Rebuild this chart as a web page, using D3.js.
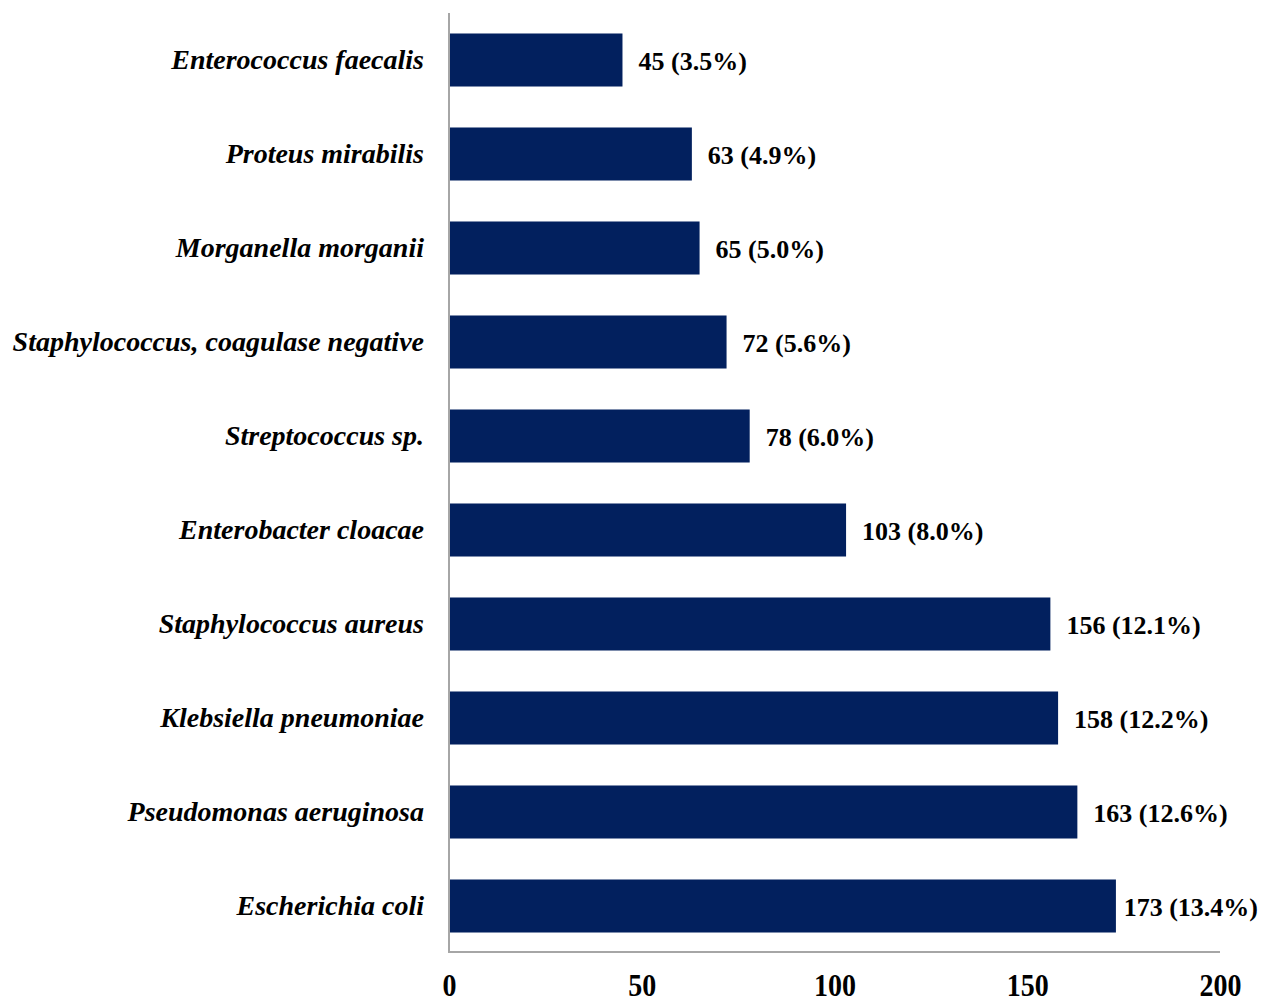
<!DOCTYPE html>
<html>
<head>
<meta charset="utf-8">
<script src="https://cdn.jsdelivr.net/npm/d3@7/dist/d3.min.js"></script>
<style>
  html, body { margin: 0; padding: 0; background: #ffffff; }
  svg { display: block; }
</style>
</head>
<body>
<script>
// Isolated organisms: counts and share of all isolates
const organisms = [
  "Enterococcus faecalis",
  "Proteus mirabilis",
  "Morganella morganii",
  "Staphylococcus, coagulase negative",
  "Streptococcus sp.",
  "Enterobacter cloacae",
  "Staphylococcus aureus ",
  "Klebsiella pneumoniae",
  "Pseudomonas aeruginosa",
  "Escherichia coli"
];
const counts = [45, 63, 65, 72, 78, 103, 156, 158, 163, 173];
const percents = ["3.5", "4.9", "5.0", "5.6", "6.0", "8.0", "12.1", "12.2", "12.6", "13.4"];
const xTicks = [0, 50, 100, 150, 200];

const W = 1262, H = 999;
const plotLeft = 449, plotRight = 1220, plotTop = 13, plotBottom = 953;

const svg = d3.select("body").append("svg")
  .attr("width", W)
  .attr("height", H);

const x = d3.scaleLinear().domain([0, 200]).range([plotLeft, plotRight]);
const y = d3.scaleBand().domain(organisms).range([plotTop, plotBottom])
  .paddingInner(0.436).paddingOuter(0.218);

const serif = "'Liberation Serif', 'Times New Roman', serif";

// bars
svg.append("g").selectAll("rect")
  .data(organisms)
  .join("rect")
  .attr("x", x(0))
  .attr("y", d => y(d))
  .attr("width", (d, i) => x(counts[i]) - x(0))
  .attr("height", y.bandwidth())
  .attr("fill", "#02205e");

// value labels, nudged left when they would run past the right edge
svg.append("g").selectAll("text")
  .data(organisms)
  .join("text")
  .attr("y", d => y(d) + y.bandwidth() / 2)
  .attr("dy", "0.4em")
  .attr("font-family", serif)
  .attr("font-weight", "bold")
  .attr("font-size", 26)
  .attr("fill", "#000")
  .text((d, i) => `${counts[i]} (${percents[i]}%)`)
  .attr("x", function (d, i) {
    const len = this.getComputedTextLength();
    return Math.min(x(counts[i]) + 16, W - 4 - len);
  });

// category axis
const yAxis = svg.append("g")
  .attr("transform", `translate(${plotLeft},0)`)
  .call(d3.axisLeft(y).tickSize(0).tickPadding(25));
yAxis.select(".domain").attr("stroke", "#a6a6a6").attr("stroke-width", 2)
  .attr("d", `M0,${plotTop}V${plotBottom}`);
yAxis.selectAll("text")
  .attr("font-family", serif)
  .attr("font-weight", "bold")
  .attr("font-style", "italic")
  .attr("font-size", 28)
  .attr("dy", "0.33em")
  .attr("fill", "#000");

// value axis; tick numbers are drawn slightly tall
const xAxis = svg.append("g")
  .attr("transform", `translate(0,${plotBottom - 1})`)
  .call(d3.axisBottom(x).tickValues(xTicks).tickSize(0));
xAxis.select(".domain").attr("stroke", "#a6a6a6").attr("stroke-width", 2)
  .attr("d", `M${plotLeft},0H${plotRight}`);
xAxis.selectAll("text")
  .attr("y", 0)
  .attr("dy", 0)
  .attr("transform", "translate(0,44) scale(1,1.15)")
  .attr("font-family", serif)
  .attr("font-weight", "bold")
  .attr("font-size", 28)
  .attr("fill", "#000");
</script>
</body>
</html>
